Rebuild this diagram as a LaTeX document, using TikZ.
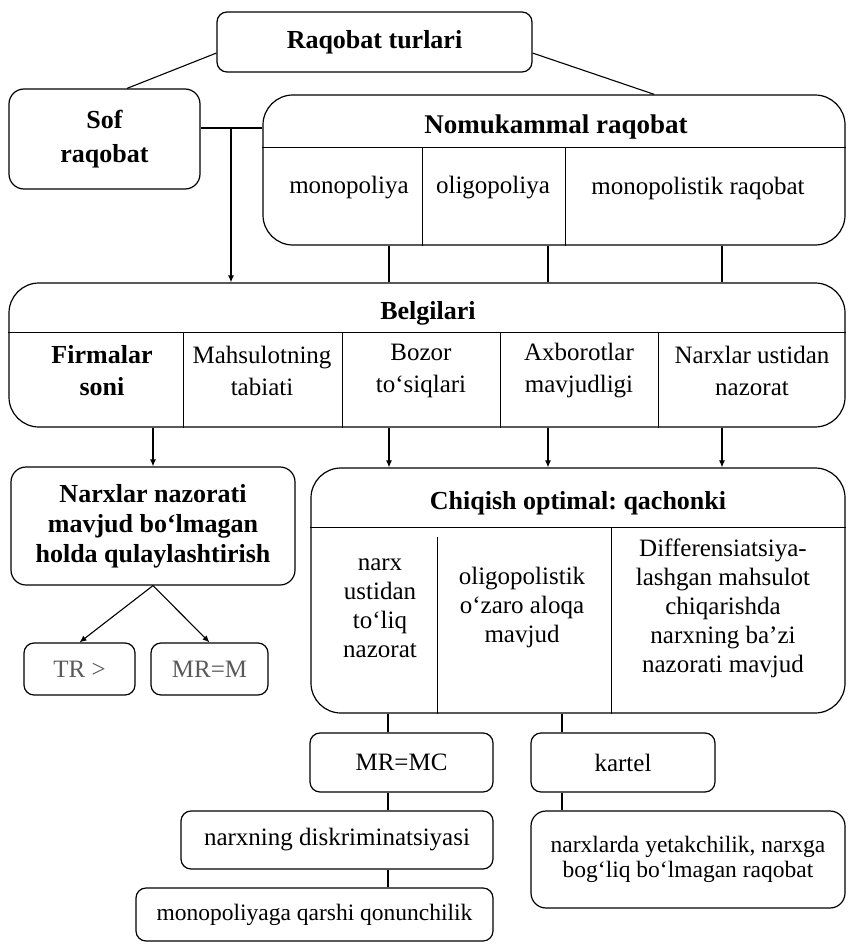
\documentclass[tikz,border=0pt]{standalone}
\usepackage{fontspec}
\setmainfont{Liberation Serif}
\usepackage{tikz}
\usetikzlibrary{arrows.meta,positioning,calc}
\frenchspacing
\tikzset{
  box/.style={draw, rounded corners=10pt, line width=1.2pt, align=center, inner sep=2pt, font=\fontsize{25}{29}\selectfont},
  boxb/.style={box, font=\bfseries\fontsize{26}{30}\selectfont},
  big/.style={box, rounded corners=30pt},
  ttl/.style={align=center, inner sep=0pt, font=\bfseries\fontsize{26}{30}\selectfont},
  cell/.style={align=center, inner sep=0pt, font=\fontsize{25}{29}\selectfont},
  cellw/.style={cell, font=\fontsize{25}{32}\selectfont},
  ln/.style={line width=1.1pt},
  dv/.style={line width=1pt},
  ar/.style={ln, -{Latex[length=7pt,width=6pt]}},
}

\begin{document}
\begin{tikzpicture}[x=1pt, y=-1pt]
  \useasboundingbox (0,0) rectangle (847,944);

  % top level
  \node[boxb, minimum width=315pt, minimum height=60pt] (turlar) at (374.5,42) {Raqobat turlari};
  \node[box, rounded corners=15pt, minimum width=191pt, minimum height=100pt,
        font=\bfseries\fontsize{26}{34}\selectfont] (sof) at (104.5,139) {Sof\\raqobat};
  \node[big, minimum width=582pt, minimum height=150pt] (nomuk) at (554,170) {};
  \node[ttl, font=\bfseries\fontsize{27}{30}\selectfont] (nomukt) at (556,127) {Nomukammal raqobat};
  \draw[dv] (nomuk.west |- 0,148) -- (nomuk.east |- 0,148);
  \foreach \x in {422,565} \draw[dv] (\x,148) -- (nomuk.south -| \x,0);
  \node[cell] (mono) at (349,188) {monopoliya};
  \node[cell] (oligo) at (493,188) {oligopoliya};
  \node[cell] (monor) at (698,188) {monopolistik raqobat};

  \draw[ln] (turlar.184) -- (sof.66);
  \draw[ln] (turlar.-4) -- (nomuk.37);
  \coordinate (jn) at (231,128);
  \draw[ln] (sof.east |- jn) -- (nomuk.west |- jn);

  % belgilari
  \node[big, minimum width=836pt, minimum height=144pt] (belg) at (427,355) {};
  \node[ttl] (belgt) at (428,313) {Belgilari};
  \draw[dv] (belg.west |- 0,332) -- (belg.east |- 0,332);
  \foreach \x in {183,342,500,658} \draw[dv] (\x,332) -- (belg.south -| \x,0);
  \node[cellw, font=\bfseries\fontsize{26}{32}\selectfont] (firm) at (102,371) {Firmalar\\soni};
  \node[cellw] (mahs) at (262,371) {Mahsulotning\\tabiati};
  \node[cellw] (bozor) at (421,371) {Bozor\\to‘siqlari};
  \node[cellw] (axb) at (579,371) {Axborotlar\\mavjudligi};
  \node[cellw] (nazo) at (752,371) {Narxlar ustidan\\nazorat};

  \draw[ar] (jn) -- (jn |- belg.north);
  \foreach \x in {389,548,722} \draw[ln] (nomuk.south -| \x,0) -- (belg.north -| \x,0);

  % left branch
  \node[boxb, rounded corners=15pt, minimum width=284pt, minimum height=118pt] (narx) at (153,526)
    {Narxlar nazorati\\mavjud bo‘lmagan\\holda qulaylashtirish};
  \node[box, text=black!65, minimum width=111pt, minimum height=52pt] (tr) at (79.5,669) {TR >};
  \node[box, text=black!65, minimum width=117pt, minimum height=52pt] (mrm) at (209.5,669) {MR=M};
  \draw[ar] (belg.south -| narx.north) -- (narx.north);
  \draw[ar] (narx.south) -- (tr.north);
  \draw[ar] (narx.south) -- (mrm.north);

  % chiqish optimal
  \node[big, minimum width=534pt, minimum height=245pt] (chiq) at (578,590.5) {};
  \node[ttl] (chiqt) at (578,503) {Chiqish optimal: qachonki};
  \draw[dv] (chiq.west |- 0,527) -- (chiq.east |- 0,527);
  \draw[dv] (437,537) -- (chiq.south -| 437,0);
  \draw[dv] (611,527) -- (chiq.south -| 611,0);
  \node[cell] (tol) at (380,608) {narx\\ustidan\\to‘liq\\nazorat};
  \node[cell] (oza) at (522,607) {oligopolistik\\o‘zaro aloqa\\mavjud};
  \node[cell] (diff) at (723,608) {Differensiatsiya-\\lashgan mahsulot\\chiqarishda\\narxning ba’zi\\nazorati mavjud};
  \foreach \x in {389,548,722} \draw[ar] (belg.south -| \x,0) -- (chiq.north -| \x,0);

  % bottom
  \node[box, minimum width=183pt, minimum height=59pt] (mrmc) at (401.5,762.5) {MR=MC};
  \node[box, minimum width=184pt, minimum height=59pt] (kart) at (623,762.5) {kartel};
  \node[box, minimum width=312pt, minimum height=58pt] (diskr) at (337,840) {narxning diskriminatsiyasi};
  \node[box, minimum width=357pt, minimum height=53pt, font=\fontsize{23.5}{28}\selectfont] (qonun) at (314.5,914.5)
    {monopoliyaga qarshi qonunchilik};
  \node[box, rounded corners=15pt, minimum width=314pt, minimum height=97pt,
        font=\fontsize{23.5}{25}\selectfont] (yetak) at (688,859.5)
    {narxlarda yetakchilik, narxga\\bog‘liq bo‘lmagan raqobat};
  \draw[ln] (chiq.south -| 388,0) -- (mrmc.north -| 388,0);
  \draw[ln] (mrmc.south -| 388,0) -- (diskr.north -| 388,0);
  \draw[ln] (diskr.south -| 388,0) -- (qonun.north -| 388,0);
  \draw[ln] (chiq.south -| 562,0) -- (kart.north -| 562,0);
  \draw[ln] (kart.south -| 562,0) -- (yetak.north -| 562,0);
\end{tikzpicture}
\end{document}
